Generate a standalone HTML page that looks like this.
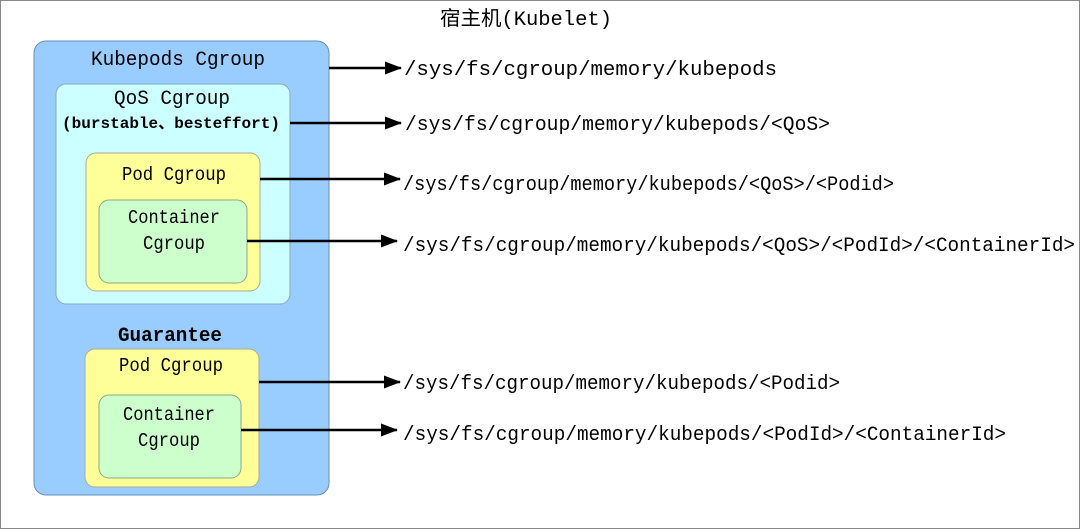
<!DOCTYPE html>
<html><head><meta charset="utf-8"><style>
html,body{margin:0;padding:0;background:#fff;}
svg{display:block}
text{font-family:"Liberation Mono","Noto Sans CJK SC",monospace;fill:#000;}
</style></head><body>
<svg width="1080" height="529" viewBox="0 0 1080 529" xmlns="http://www.w3.org/2000/svg">
<defs><marker id="a" markerWidth="18" markerHeight="14" refX="16" refY="6.5" orient="auto" markerUnits="userSpaceOnUse"><path d="M0,0 L17,6.5 L0,13 Z"/></marker></defs>
<rect x="0.5" y="0.5" width="1079" height="528" fill="#fff" stroke="#888" stroke-width="1"/>
<text x="526" y="25" font-size="20" text-anchor="middle" textLength="172" lengthAdjust="spacingAndGlyphs">宿主机(Kubelet)</text>
<rect x="34" y="41" width="295" height="454" rx="12" fill="#99ccff" stroke="#6a8fb5"/>
<text x="178" y="65" font-size="20" text-anchor="middle" textLength="174" lengthAdjust="spacingAndGlyphs">Kubepods Cgroup</text>
<rect x="56" y="84" width="234" height="220" rx="10" fill="#ccffff" stroke="#8ab"/>
<text x="172" y="104" font-size="20" text-anchor="middle" textLength="116" lengthAdjust="spacingAndGlyphs">QoS Cgroup</text>
<text x="171" y="128" font-size="16" font-weight="bold" text-anchor="middle" textLength="218" lengthAdjust="spacingAndGlyphs">(burstable、besteffort)</text>
<rect x="86" y="153" width="174" height="138" rx="10" fill="#ffff99" stroke="#aa9"/>
<text x="174" y="180" font-size="19" text-anchor="middle" textLength="104" lengthAdjust="spacingAndGlyphs">Pod Cgroup</text>
<rect x="99" y="200" width="148" height="83" rx="10" fill="#ccffcc" stroke="#8a8"/>
<text x="174" y="223" font-size="19" text-anchor="middle" textLength="92" lengthAdjust="spacingAndGlyphs">Container</text>
<text x="174" y="249" font-size="19" text-anchor="middle" textLength="62" lengthAdjust="spacingAndGlyphs">Cgroup</text>
<text x="170" y="341" font-size="20" font-weight="bold" text-anchor="middle" textLength="104" lengthAdjust="spacingAndGlyphs">Guarantee</text>
<rect x="85" y="349" width="174" height="138" rx="10" fill="#ffff99" stroke="#aa9"/>
<text x="171" y="371" font-size="19" text-anchor="middle" textLength="104" lengthAdjust="spacingAndGlyphs">Pod Cgroup</text>
<rect x="99" y="395" width="142" height="83" rx="10" fill="#ccffcc" stroke="#8a8"/>
<text x="169" y="420" font-size="19" text-anchor="middle" textLength="92" lengthAdjust="spacingAndGlyphs">Container</text>
<text x="169" y="446" font-size="19" text-anchor="middle" textLength="62" lengthAdjust="spacingAndGlyphs">Cgroup</text>
<g stroke="#000" stroke-width="2.5" marker-end="url(#a)">
<line x1="329" y1="68" x2="401" y2="68"/>
<line x1="290" y1="123" x2="401" y2="123"/>
<line x1="260" y1="179" x2="400" y2="179"/>
<line x1="247" y1="241" x2="397" y2="241"/>
<line x1="259" y1="382" x2="400" y2="382"/>
<line x1="241" y1="430" x2="397" y2="430"/>
</g>
<g font-size="20">
<text x="404" y="75" textLength="373" lengthAdjust="spacingAndGlyphs">/sys/fs/cgroup/memory/kubepods</text>
<text x="405" y="130" textLength="425" lengthAdjust="spacingAndGlyphs">/sys/fs/cgroup/memory/kubepods/&lt;QoS&gt;</text>
<text x="403" y="190" textLength="491" lengthAdjust="spacingAndGlyphs">/sys/fs/cgroup/memory/kubepods/&lt;QoS&gt;/&lt;Podid&gt;</text>
<text x="403" y="251" textLength="672" lengthAdjust="spacingAndGlyphs">/sys/fs/cgroup/memory/kubepods/&lt;QoS&gt;/&lt;PodId&gt;/&lt;ContainerId&gt;</text>
<text x="403" y="389" textLength="437" lengthAdjust="spacingAndGlyphs">/sys/fs/cgroup/memory/kubepods/&lt;Podid&gt;</text>
<text x="403" y="440" textLength="603" lengthAdjust="spacingAndGlyphs">/sys/fs/cgroup/memory/kubepods/&lt;PodId&gt;/&lt;ContainerId&gt;</text>
</g>
</svg>
</body></html>
